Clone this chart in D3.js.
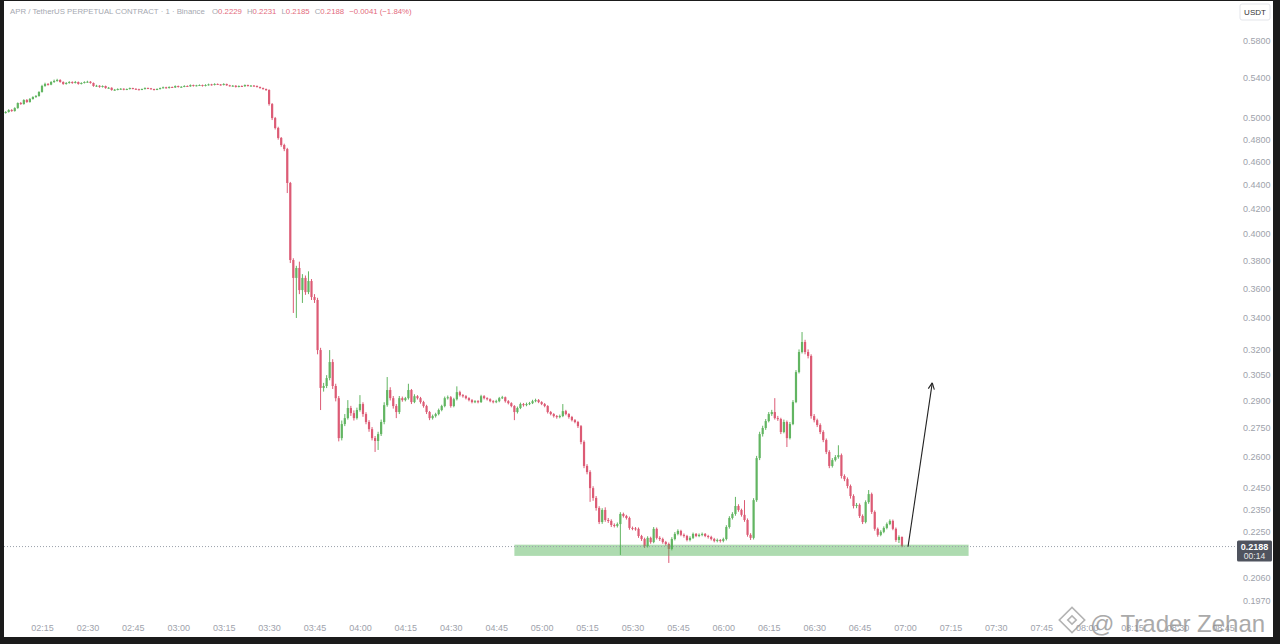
<!DOCTYPE html>
<html>
<head>
<meta charset="utf-8">
<script src="https://cdn.jsdelivr.net/npm/d3@7"></script>
<style>
  html, body { margin: 0; padding: 0; background: #1b1b1b; overflow: hidden; }
  text { font-family: "Liberation Sans", "DejaVu Sans", sans-serif; }
</style>
</head>
<body>
<script>
// 1 minute candles, APR/USDT perp, first candle 02:03
const startTime = '02:03';
const firstOpen = 0.5050;
const closes = [
  0.5058,0.5077,0.5067,0.5096,0.5146,0.5136,0.5176,0.5156,0.5186,0.5206,
  0.5216,0.5257,0.5318,0.5339,0.5332,0.5359,0.5370,0.5380,0.5359,0.5339,
  0.5349,0.5359,0.5349,0.5359,0.5339,0.5349,0.5359,0.5362,0.5349,0.5318,
  0.5321,0.5308,0.5318,0.5297,0.5300,0.5277,0.5280,0.5287,0.5290,0.5280,
  0.5287,0.5297,0.5290,0.5285,0.5280,0.5287,0.5297,0.5294,0.5287,0.5280,
  0.5287,0.5297,0.5305,0.5297,0.5308,0.5303,0.5318,0.5308,0.5310,0.5318,
  0.5314,0.5328,0.5318,0.5325,0.5328,0.5318,0.5328,0.5335,0.5328,0.5339,
  0.5334,0.5328,0.5339,0.5325,0.5318,0.5321,0.5308,0.5318,0.5315,0.5328,
  0.5318,0.5322,0.5318,0.5308,0.5297,0.5287,0.5277,0.5136,0.4999,0.4904,
  0.4811,0.4746,0.4709,0.4411,0.3802,0.3673,0.3744,0.3588,0.3673,0.3574,
  0.3651,0.3540,0.3520,0.3196,0.2971,0.2982,0.3028,0.3123,0.2982,0.2913,
  0.2697,0.2771,0.2803,0.2858,0.2830,0.2803,0.2847,0.2880,0.2825,0.2782,
  0.2744,0.2697,0.2682,0.2718,0.2782,0.2874,0.2959,0.2913,0.2869,0.2836,
  0.2913,0.2902,0.2913,0.2959,0.2891,0.2924,0.2913,0.2891,0.2869,0.2836,
  0.2803,0.2814,0.2825,0.2847,0.2869,0.2913,0.2918,0.2869,0.2907,0.2947,
  0.2930,0.2924,0.2913,0.2902,0.2891,0.2896,0.2891,0.2924,0.2913,0.2907,
  0.2896,0.2891,0.2896,0.2913,0.2918,0.2896,0.2885,0.2869,0.2836,0.2858,
  0.2880,0.2874,0.2880,0.2885,0.2896,0.2902,0.2891,0.2880,0.2869,0.2836,
  0.2825,0.2814,0.2809,0.2814,0.2841,0.2825,0.2809,0.2792,0.2782,0.2760,
  0.2677,0.2556,0.2526,0.2449,0.2403,0.2357,0.2294,0.2348,0.2303,0.2299,
  0.2281,0.2277,0.2285,0.2330,0.2321,0.2312,0.2268,0.2266,0.2264,0.2233,
  0.2220,0.2190,0.2225,0.2207,0.2264,0.2225,0.2220,0.2207,0.2199,0.2178,
  0.2220,0.2242,0.2255,0.2238,0.2233,0.2216,0.2225,0.2242,0.2233,0.2238,
  0.2242,0.2233,0.2229,0.2220,0.2212,0.2216,0.2212,0.2220,0.2272,0.2312,
  0.2330,0.2366,0.2348,0.2326,0.2303,0.2238,0.2225,0.2393,0.2595,0.2718,
  0.2750,0.2787,0.2825,0.2836,0.2803,0.2798,0.2729,0.2782,0.2697,0.2771,
  0.2891,0.3063,0.3184,0.3246,0.3184,0.3160,0.2814,0.2792,0.2766,0.2729,
  0.2687,0.2626,0.2556,0.2585,0.2600,0.2610,0.2507,0.2492,0.2459,0.2412,
  0.2366,0.2371,0.2321,0.2294,0.2384,0.2421,0.2339,0.2264,0.2238,0.2251,
  0.2268,0.2285,0.2299,0.2264,0.2216,0.2229,0.2188
];
const highs = [
  0.5066,0.5085,0.5086,0.5104,0.5152,0.5156,0.5184,0.5186,0.5196,0.5214,
  0.5226,0.5265,0.5330,0.5352,0.5348,0.5368,0.5384,0.5392,0.5388,0.5366,
  0.5358,0.5368,0.5366,0.5370,0.5364,0.5356,0.5366,0.5372,0.5368,0.5354,
  0.5330,0.5326,0.5324,0.5322,0.5308,0.5304,0.5288,0.5294,0.5296,0.5294,
  0.5292,0.5302,0.5300,0.5294,0.5290,0.5292,0.5304,0.5302,0.5298,0.5290,
  0.5294,0.5302,0.5312,0.5310,0.5314,0.5312,0.5324,0.5322,0.5316,0.5326,
  0.5324,0.5334,0.5332,0.5330,0.5334,0.5332,0.5336,0.5342,0.5340,0.5346,
  0.5344,0.5338,0.5346,0.5342,0.5330,0.5328,0.5326,0.5324,0.5324,0.5334,
  0.5332,0.5328,0.5328,0.5324,0.5312,0.5302,0.5292,0.5284,0.5146,0.5010,
  0.4916,0.4820,0.4758,0.4720,0.4420,0.3815,0.3760,0.3790,0.3700,0.3690,
  0.3720,0.3665,0.3560,0.3535,0.3210,0.3000,0.3045,0.3196,0.3140,0.2995,
  0.2925,0.2790,0.2825,0.2902,0.2870,0.2845,0.2860,0.2930,0.2890,0.2835,
  0.2792,0.2755,0.2708,0.2730,0.2795,0.2890,0.3034,0.2975,0.2925,0.2880,
  0.2925,0.2922,0.2920,0.2995,0.2965,0.2935,0.2930,0.2920,0.2898,0.2876,
  0.2842,0.2822,0.2832,0.2855,0.2876,0.2922,0.2928,0.2925,0.2915,0.2980,
  0.2955,0.2936,0.2930,0.2918,0.2908,0.2902,0.2902,0.2932,0.2930,0.2918,
  0.2912,0.2902,0.2904,0.2920,0.2926,0.2922,0.2902,0.2890,0.2874,0.2866,
  0.2888,0.2886,0.2888,0.2892,0.2904,0.2910,0.2908,0.2896,0.2886,0.2874,
  0.2842,0.2830,0.2820,0.2822,0.2880,0.2848,0.2830,0.2815,0.2798,0.2788,
  0.2766,0.2685,0.2565,0.2535,0.2458,0.2412,0.2365,0.2356,0.2360,0.2312,
  0.2306,0.2288,0.2292,0.2338,0.2336,0.2326,0.2318,0.2274,0.2272,0.2270,
  0.2238,0.2226,0.2232,0.2230,0.2272,0.2270,0.2232,0.2226,0.2212,0.2205,
  0.2228,0.2250,0.2262,0.2260,0.2244,0.2238,0.2232,0.2248,0.2246,0.2244,
  0.2248,0.2246,0.2238,0.2234,0.2225,0.2222,0.2220,0.2226,0.2280,0.2320,
  0.2338,0.2408,0.2374,0.2354,0.2393,0.2310,0.2245,0.2402,0.2606,0.2730,
  0.2762,0.2798,0.2836,0.2848,0.2913,0.2815,0.2805,0.2795,0.2790,0.2782,
  0.2902,0.3075,0.3200,0.3309,0.3260,0.3200,0.3170,0.2825,0.2800,0.2775,
  0.2738,0.2695,0.2635,0.2595,0.2610,0.2660,0.2618,0.2515,0.2500,0.2466,
  0.2420,0.2380,0.2378,0.2328,0.2392,0.2440,0.2428,0.2346,0.2270,0.2258,
  0.2275,0.2292,0.2306,0.2305,0.2270,0.2236,0.2231
];
const lows = [
  0.5042,0.5052,0.5060,0.5062,0.5090,0.5128,0.5130,0.5148,0.5150,0.5180,
  0.5198,0.5210,0.5250,0.5310,0.5322,0.5326,0.5350,0.5362,0.5352,0.5330,
  0.5332,0.5342,0.5340,0.5344,0.5332,0.5334,0.5344,0.5352,0.5342,0.5310,
  0.5310,0.5300,0.5302,0.5290,0.5290,0.5270,0.5270,0.5274,0.5280,0.5274,
  0.5276,0.5282,0.5284,0.5278,0.5274,0.5276,0.5282,0.5288,0.5282,0.5272,
  0.5276,0.5282,0.5292,0.5290,0.5292,0.5298,0.5298,0.5302,0.5302,0.5306,
  0.5308,0.5310,0.5312,0.5314,0.5320,0.5312,0.5314,0.5322,0.5322,0.5324,
  0.5328,0.5322,0.5324,0.5320,0.5312,0.5312,0.5302,0.5304,0.5310,0.5310,
  0.5312,0.5314,0.5312,0.5302,0.5290,0.5280,0.5268,0.5120,0.4980,0.4890,
  0.4795,0.4730,0.4690,0.4326,0.3780,0.3433,0.3400,0.3560,0.3500,0.3555,
  0.3560,0.3520,0.3500,0.3170,0.2847,0.2950,0.2970,0.3015,0.2965,0.2895,
  0.2680,0.2685,0.2760,0.2795,0.2815,0.2790,0.2795,0.2838,0.2810,0.2770,
  0.2730,0.2685,0.2626,0.2636,0.2708,0.2770,0.2865,0.2900,0.2855,0.2803,
  0.2825,0.2893,0.2895,0.2905,0.2880,0.2885,0.2905,0.2882,0.2860,0.2825,
  0.2792,0.2795,0.2806,0.2818,0.2840,0.2862,0.2905,0.2860,0.2862,0.2900,
  0.2922,0.2916,0.2906,0.2895,0.2884,0.2885,0.2884,0.2886,0.2906,0.2900,
  0.2890,0.2884,0.2885,0.2890,0.2908,0.2888,0.2878,0.2862,0.2792,0.2828,
  0.2852,0.2866,0.2868,0.2874,0.2880,0.2890,0.2885,0.2874,0.2862,0.2828,
  0.2818,0.2806,0.2800,0.2802,0.2808,0.2818,0.2800,0.2785,0.2775,0.2750,
  0.2665,0.2545,0.2515,0.2385,0.2390,0.2345,0.2285,0.2286,0.2295,0.2290,
  0.2272,0.2270,0.2270,0.2153,0.2314,0.2305,0.2260,0.2258,0.2256,0.2225,
  0.2212,0.2182,0.2184,0.2200,0.2202,0.2218,0.2212,0.2200,0.2192,0.2120,
  0.2172,0.2214,0.2236,0.2232,0.2226,0.2210,0.2210,0.2220,0.2228,0.2228,
  0.2232,0.2228,0.2222,0.2214,0.2206,0.2206,0.2205,0.2206,0.2214,0.2265,
  0.2305,0.2322,0.2340,0.2318,0.2295,0.2230,0.2216,0.2218,0.2385,0.2585,
  0.2705,0.2740,0.2780,0.2815,0.2795,0.2788,0.2718,0.2722,0.2651,0.2690,
  0.2765,0.2885,0.3055,0.3175,0.3170,0.3145,0.2800,0.2780,0.2755,0.2718,
  0.2676,0.2615,0.2545,0.2548,0.2578,0.2592,0.2495,0.2482,0.2448,0.2400,
  0.2355,0.2356,0.2312,0.2285,0.2288,0.2376,0.2330,0.2256,0.2230,0.2232,
  0.2245,0.2262,0.2280,0.2258,0.2208,0.2203,0.2185
];

const timeTicks = ['02:15','02:30','02:45','03:00','03:15','03:30','03:45','04:00','04:15',
  '04:30','04:45','05:00','05:15','05:30','05:45','06:00','06:15','06:30','06:45',
  '07:00','07:15','07:30','07:45','08:00','08:15','08:30','08:45'];
const priceTicks = [0.5800,0.5400,0.5000,0.4800,0.4600,0.4400,0.4200,0.4000,0.3800,0.3600,
  0.3400,0.3200,0.3050,0.2900,0.2750,0.2600,0.2450,0.2350,0.2250,0.2060,0.1970];

const lastPrice = 0.2188;
const countdown = '00:14';
const zoneTimes = ['04:51', '07:21'];
const zonePrices = [0.2196, 0.2149];
const arrowTimes = ['07:01', '07:09'];
const arrowPrices = [0.2188, 0.3000];

const W = 1280, H = 644;
const red = '#dc5b75', green = '#62b562';

const toMin = s => +s.slice(0, 2) * 60 + +s.slice(3, 5);
const t0 = toMin(startTime);

const x = d3.scaleLinear().domain([toMin('02:15'), toMin('07:00')]).range([42, 905]);
const y = d3.scaleLog().domain([0.197, 0.58]).range([601, 41]);

const svg = d3.select('body').append('svg').attr('width', W).attr('height', H);

// dark frame + white canvas
svg.append('rect').attr('width', W).attr('height', H).attr('fill', '#1b1b1b');
svg.append('rect').attr('x', 4).attr('y', 1).attr('width', 1269).attr('height', 636).attr('fill', '#ffffff');

const candles = closes.map((c, i) => ({
  t: t0 + i,
  o: i === 0 ? firstOpen : closes[i - 1],
  h: highs[i], l: lows[i], c: c
}));

const cg = svg.append('g');
cg.selectAll('line').data(candles).enter().append('line')
  .attr('x1', d => x(d.t)).attr('x2', d => x(d.t))
  .attr('y1', d => y(d.h)).attr('y2', d => y(d.l))
  .attr('stroke', d => d.c >= d.o ? green : red)
  .attr('stroke-width', 1);
cg.selectAll('rect').data(candles).enter().append('rect')
  .attr('x', d => x(d.t) - 1.1)
  .attr('width', 2.2)
  .attr('y', d => y(Math.max(d.o, d.c)))
  .attr('height', d => Math.max(1, Math.abs(y(d.o) - y(d.c))))
  .attr('fill', d => d.c >= d.o ? green : red);

// support zone
svg.append('rect')
  .attr('x', x(toMin(zoneTimes[0]))).attr('width', x(toMin(zoneTimes[1])) - x(toMin(zoneTimes[0])))
  .attr('y', y(zonePrices[0])).attr('height', y(zonePrices[1]) - y(zonePrices[0]))
  .attr('fill', '#4caf50').attr('opacity', 0.45);

// last price dotted line
svg.append('line')
  .attr('x1', 4).attr('x2', 1236).attr('y1', y(lastPrice)).attr('y2', y(lastPrice))
  .attr('stroke', '#9aa0aa').attr('stroke-dasharray', '1,2').attr('stroke-width', 1);

// arrow drawing
const ax1 = x(toMin(arrowTimes[0])), ay1 = y(arrowPrices[0]);
const ax2 = x(toMin(arrowTimes[1])), ay2 = y(arrowPrices[1]);
svg.append('line').attr('x1', ax1).attr('y1', ay1).attr('x2', ax2).attr('y2', ay2)
  .attr('stroke', '#222').attr('stroke-width', 1.1);
const ang = Math.atan2(ay1 - ay2, ax1 - ax2);
[0.45, -0.45].forEach(da => {
  svg.append('line').attr('x1', ax2).attr('y1', ay2)
    .attr('x2', ax2 + 7 * Math.cos(ang + da)).attr('y2', ay2 + 7 * Math.sin(ang + da))
    .attr('stroke', '#222').attr('stroke-width', 1.1);
});

// axes
const xAxis = svg.append('g').attr('transform', 'translate(0,621)')
  .call(d3.axisBottom(x).tickValues(timeTicks.map(toMin)).tickSize(0).tickPadding(4)
    .tickFormat(m => d3.format('02')(Math.floor(m / 60)) + ':' + d3.format('02')(m % 60)));
xAxis.select('.domain').remove();
xAxis.selectAll('text').attr('fill', '#9ea2ab').attr('font-size', '9px')
  .attr('font-family', '"Liberation Sans", sans-serif');

const yAxis = svg.append('g').attr('transform', 'translate(1238,0)')
  .call(d3.axisRight(y).tickValues(priceTicks).tickSize(0).tickPadding(5).tickFormat(d3.format('.4f')));
yAxis.select('.domain').remove();
yAxis.selectAll('text').attr('fill', '#9ea2ab').attr('font-size', '9px')
  .attr('font-family', '"Liberation Sans", sans-serif');

// price label
const py = y(lastPrice);
svg.append('rect').attr('x', 1237).attr('y', py - 6).attr('width', 35).attr('height', 21)
  .attr('rx', 1.5).attr('fill', '#4f535e');
svg.append('text').attr('x', 1254.5).attr('y', py + 3.2).attr('text-anchor', 'middle')
  .attr('fill', '#fff').attr('font-size', '9px').attr('font-weight', 'bold').text(d3.format('.4f')(lastPrice));
svg.append('text').attr('x', 1254.5).attr('y', py + 12.5).attr('text-anchor', 'middle')
  .attr('fill', '#e8e8e8').attr('font-size', '8.5px').text(countdown);

// currency box
svg.append('rect').attr('x', 1240).attr('y', 4).attr('width', 30).attr('height', 16)
  .attr('fill', '#fff').attr('stroke', '#e3e5ea').attr('rx', 2);
svg.append('text').attr('x', 1255).attr('y', 15.3).attr('text-anchor', 'middle')
  .attr('fill', '#333').attr('font-size', '8px').text('USDT');

// header
const hdr = svg.append('text').attr('x', 10).attr('y', 14).attr('font-size', '7.8px');
hdr.append('tspan').attr('fill', '#a5a8b0').text('APR / TetherUS PERPETUAL CONTRACT · 1 · Binance  ');
[['O', '0.2229'], ['H', '0.2231'], ['L', '0.2185'], ['C', '0.2188']].forEach(([k, v]) => {
  hdr.append('tspan').attr('dx', 5).attr('fill', '#a5a8b0').text(k);
  hdr.append('tspan').attr('fill', '#e36b7d').text(v);
});
hdr.append('tspan').attr('dx', 5).attr('fill', '#e36b7d').text('−0.0041 (−1.84%)');

// watermark (sits over the last time labels, as in the screenshot)
const wm = svg.append('g').attr('opacity', 0.75);
const lg = wm.append('g').attr('transform', 'translate(1072,620) rotate(45)')
  .attr('fill', 'none').attr('stroke', '#9a9a9a').attr('stroke-width', 1.6);
lg.append('rect').attr('x', -9).attr('y', -9).attr('width', 18).attr('height', 18);
lg.append('rect').attr('x', -3).attr('y', -3).attr('width', 6).attr('height', 6);
wm.append('text').attr('x', 1090).attr('y', 632).attr('font-size', '24px')
  .attr('font-family', '"Open Sans", sans-serif').attr('fill', '#8e8e8e').text('@ Trader Zehan');
</script>
</body>
</html>
